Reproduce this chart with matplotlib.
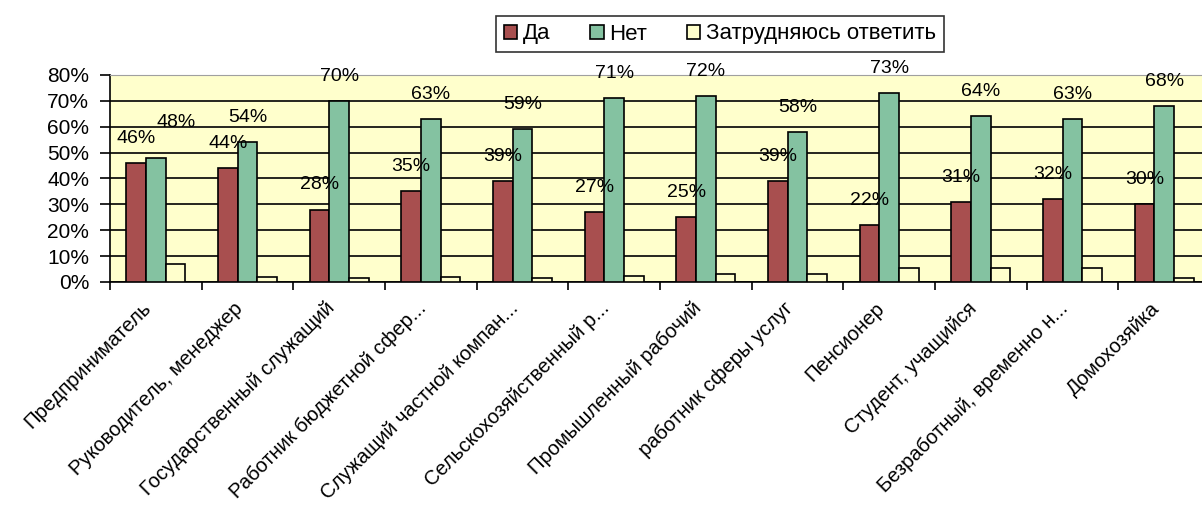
import numpy as np
import matplotlib
matplotlib.use('Agg')
import matplotlib.pyplot as plt
import matplotlib.transforms as mtransforms
from matplotlib.ticker import FixedLocator

plt.rcParams['font.family'] = ['Liberation Sans', 'DejaVu Sans']

categories = [
    'Предприниматель',
    'Руководитель, менеджер',
    'Государственный служащий',
    'Работник бюджетной сфер...',
    'Служащий частной компан...',
    'Сельскохозяйственный р...',
    'Промышленный рабочий',
    'работник сферы услуг',
    'Пенсионер',
    'Студент, учащийся',
    'Безработный, временно н...',
    'Домохозяйка',
]
da = [46, 44, 28, 35, 39, 27, 25, 39, 22, 31, 32, 30]
net = [48, 54, 70, 63, 59, 71, 72, 58, 73, 64, 63, 68]
hard = [7, 2, 1.5, 2, 1.5, 2.5, 3, 3, 5.5, 5.5, 5.5, 1.5]
series_names = ['Да', 'Нет', 'Затрудняюсь ответить']
y_ticks = [0, 10, 20, 30, 40, 50, 60, 70, 80]

fig = plt.figure(figsize=(12.02, 5.14), dpi=100)
ax = fig.add_axes([0.0915, 0.4514, 0.9151, 0.4027])
ax.set_facecolor('#FFFFCC')

x = np.arange(len(categories)) + 0.5
w = 0.215
colors = ['#A84F4F', '#84C2A1', '#FFFFCC']
for k, (vals, col, name) in enumerate(zip([da, net, hard], colors, series_names)):
    ax.bar(x + (k - 1) * w, vals, width=w, color=col, edgecolor='black',
           linewidth=1.2, label=name, zorder=3)

# value labels for "Да" and "Нет"; a "Нет" label close to its "Да" label is nudged
for xi, d, n in zip(x, da, net):
    ax.text(xi - w, d + 9.5, f'{d}%', ha='center', va='center',
            fontsize=14, zorder=4)
    dx, dy = (0.22, 13.5) if abs(n - d) < 5 else (0, 9.5)
    ax.text(xi + dx, n + dy, f'{n}%', ha='center', va='center',
            fontsize=14, zorder=4)

ax.set_xlim(0, len(categories))
ax.set_ylim(0, 80)
ax.set_yticks(y_ticks)
ax.set_yticklabels([f'{t}%' for t in y_ticks], fontsize=15)
ax.yaxis.grid(True, color='black', linewidth=1.2, zorder=0)
ax.set_axisbelow(True)

ax.set_xticks(x)
ax.set_xticklabels(categories, rotation=45, ha='right', va='top',
                   rotation_mode='anchor', fontsize=14.5)
ax.tick_params(axis='x', which='major', length=0, pad=12)
shift = mtransforms.ScaledTranslation(-0.14, 0, fig.dpi_scale_trans)
for lbl in ax.get_xticklabels():
    lbl.set_transform(lbl.get_transform() + shift)
ax.xaxis.set_minor_locator(FixedLocator(np.arange(len(categories) + 1)))
ax.tick_params(axis='x', which='minor', length=6, width=1.2, direction='out')
ax.tick_params(axis='y', length=7, width=1.2, direction='out', pad=8)

ax.spines['top'].set_color('#A0A0A0')
ax.spines['right'].set_visible(False)
for s in ['left', 'bottom']:
    ax.spines[s].set_linewidth(1.2)

leg = ax.legend(loc='center', bbox_to_anchor=(720 / 1202, 1 - 34 / 514),
                bbox_transform=fig.transFigure, ncol=3, fontsize=16,
                frameon=True, fancybox=False, edgecolor='black',
                handlelength=0.6, handleheight=0.6, handletextpad=0.25,
                columnspacing=1.8, borderpad=0.35)
leg.get_frame().set_linewidth(1.2)

fig.savefig('out.png', dpi=100)
